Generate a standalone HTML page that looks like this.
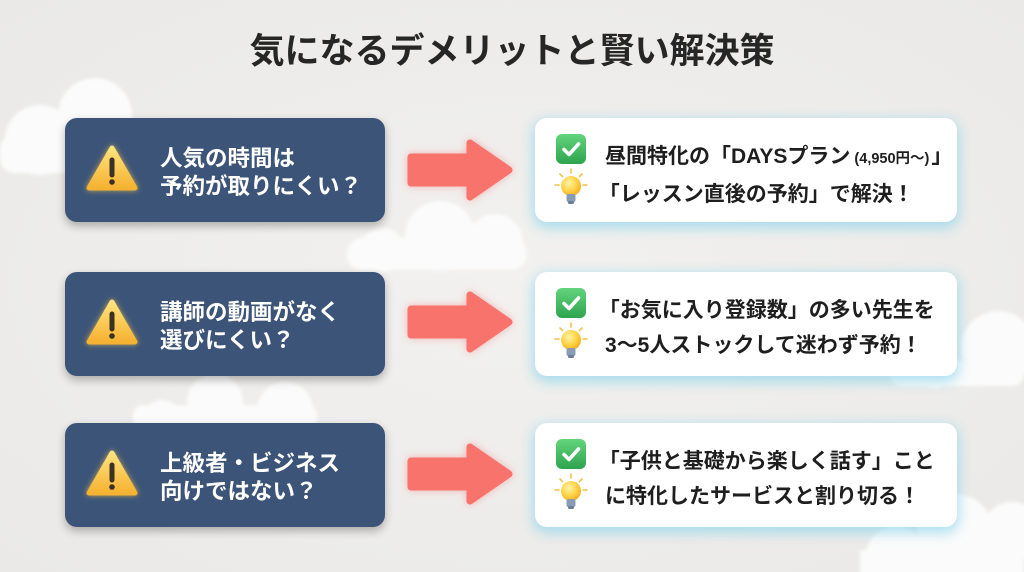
<!DOCTYPE html>
<html lang="ja">
<head>
<meta charset="utf-8">
<style>
  html,body{margin:0;padding:0;}
  body{width:1024px;height:572px;overflow:hidden;position:relative;
    background:#eeedeb;
    font-family:"Liberation Sans","Noto Sans CJK JP",sans-serif;}
  .bg{position:absolute;left:0;top:0;}
  .title{position:absolute;left:0;width:1024px;top:30px;text-align:center;
    font-size:35px;line-height:44px;font-weight:700;color:#262626;letter-spacing:0px;}
  .lbox{position:absolute;left:65px;width:320px;height:104px;border-radius:12px;
    background:#3b5478;box-shadow:0 4px 9px rgba(0,0,0,0.28);}
  .lbox .txt{position:absolute;left:95px;top:27px;color:#fff;font-size:22.5px;line-height:28px;
    font-weight:700;white-space:nowrap;}
  .lbox svg{position:absolute;left:22px;top:28px;overflow:visible;}
  .rbox{position:absolute;left:535px;width:422px;height:104px;border-radius:12px;
    background:#fff;box-shadow:0 4px 12px 2px rgba(130,210,235,0.65);}
  .rbox .txt{position:absolute;left:70px;top:21px;color:#1e1e1e;font-size:21px;line-height:35px;
    font-weight:700;white-space:nowrap;}
  .br{margin-left:-0.3em;}
  .small{font-size:14.5px;margin:0 2px 0 4px;}
  .rbox .chk{position:absolute;left:21px;top:16px;}
  .rbox .bulb{position:absolute;left:18px;top:50px;}
  .arrow{position:absolute;left:400px;overflow:visible;}
</style>
</head>
<body>
<svg class="bg" width="1024" height="572" viewBox="0 0 1024 572">
  <defs>
    <filter id="soft" x="-20%" y="-20%" width="140%" height="140%">
      <feGaussianBlur stdDeviation="1.6"/>
    </filter>
    <radialGradient id="bgg" cx="50%" cy="50%" r="70%">
      <stop offset="0" stop-color="#f2f1ef"/>
      <stop offset="1" stop-color="#eae9e7"/>
    </radialGradient>
  </defs>
  <rect width="1024" height="572" fill="url(#bgg)"/>
  <g fill="#fbfbfb" filter="url(#soft)">
    <circle cx="95" cy="115" r="37"/>
    <circle cx="40" cy="140" r="35"/>
    <rect x="0" y="135" width="140" height="38" rx="14"/>
    <circle cx="440" cy="236" r="35"/>
    <circle cx="495" cy="242" r="28"/>
    <circle cx="382" cy="250" r="22"/>
    <rect x="347" y="238" width="180" height="32" rx="15"/>
    <circle cx="215" cy="402" r="28"/>
    <circle cx="285" cy="410" r="28"/>
    <circle cx="162" cy="420" r="20"/>
    <rect x="133" y="405" width="184" height="25" rx="10"/>
    <circle cx="998" cy="348" r="37"/>
    <circle cx="935" cy="366" r="22"/>
    <rect x="890" y="360" width="134" height="26" rx="12"/>
    <circle cx="955" cy="532" r="38"/>
    <circle cx="896" cy="556" r="30"/>
    <circle cx="1012" cy="532" r="30"/>
    <rect x="860" y="550" width="164" height="30"/>
  </g>
</svg>

<div class="title">気になるデメリットと賢い解決策</div>

<svg width="0" height="0" style="position:absolute">
  <defs>
    <linearGradient id="warn" x1="0" y1="0" x2="0" y2="1">
      <stop offset="0" stop-color="#ffe27c"/>
      <stop offset="1" stop-color="#f6b232"/>
    </linearGradient>
    <linearGradient id="grn" x1="0" y1="0" x2="0" y2="1">
      <stop offset="0" stop-color="#62d47c"/>
      <stop offset="1" stop-color="#2ea44e"/>
    </linearGradient>
    <radialGradient id="blb" cx="40%" cy="35%" r="70%">
      <stop offset="0" stop-color="#fff3a8"/>
      <stop offset="0.6" stop-color="#ffd041"/>
      <stop offset="1" stop-color="#f3a91f"/>
    </radialGradient>
    <filter id="glow" x="-50%" y="-50%" width="200%" height="200%">
      <feGaussianBlur stdDeviation="3" result="b"/>
      <feFlood flood-color="#ffc94a" flood-opacity="0.7"/>
      <feComposite in2="b" operator="in"/>
      <feMerge><feMergeNode/><feMergeNode in="SourceGraphic"/></feMerge>
    </filter>
    <filter id="aglow" x="-30%" y="-30%" width="160%" height="160%">
      <feGaussianBlur stdDeviation="4" result="b"/>
      <feFlood flood-color="#f76c66" flood-opacity="0.45"/>
      <feComposite in2="b" operator="in"/>
      <feMerge><feMergeNode/><feMergeNode in="SourceGraphic"/></feMerge>
    </filter>
    <g id="tri">
      <path d="M25 2 L48 42 L2 42 Z" fill="url(#warn)" stroke="url(#warn)" stroke-width="5" stroke-linejoin="round"/>
      <path d="M25 14 L25 29" stroke="#3a3326" stroke-width="5" stroke-linecap="round"/>
      <circle cx="25" cy="36" r="2.8" fill="#3a3326"/>
    </g>
    <g id="check">
      <rect x="0" y="0" width="30" height="30" rx="6" fill="url(#grn)"/>
      <path d="M8 15.5 L13 20.5 L22.5 10" fill="none" stroke="#fff" stroke-width="3.6" stroke-linecap="round" stroke-linejoin="round"/>
    </g>
    <g id="bulbg">
      <g stroke="#f2c04a" stroke-width="1.6" stroke-linecap="round">
        <line x1="18" y1="1" x2="18" y2="5"/>
        <line x1="7" y1="6" x2="9.5" y2="8.5"/>
        <line x1="29" y1="6" x2="26.5" y2="8.5"/>
        <line x1="2" y1="17" x2="6" y2="17"/>
        <line x1="30" y1="17" x2="34" y2="17"/>
      </g>
      <circle cx="18" cy="18" r="10" fill="url(#blb)"/>
      <rect x="13.5" y="26" width="9" height="8" rx="2" fill="#8a9bb5"/>
      <rect x="15" y="33" width="6" height="3" rx="1.5" fill="#6b7d99"/>
    </g>
    <g id="arr">
      <path d="M11 18 L70 18 L70 4 L109 31 L70 58 L70 44 L11 44 Z" fill="#f7736c" stroke="#f7736c" stroke-width="7" stroke-linejoin="round"/>
    </g>
  </defs>
</svg>

<div class="lbox" style="top:118px;">
  <svg width="50" height="46" viewBox="0 0 50 46"><use href="#tri" filter="url(#glow)"/></svg>
  <div class="txt">人気の時間は<br>予約が取りにくい？</div>
</div>
<div class="lbox" style="top:272px;">
  <svg width="50" height="46" viewBox="0 0 50 46"><use href="#tri" filter="url(#glow)"/></svg>
  <div class="txt">講師の動画がなく<br>選びにくい？</div>
</div>
<div class="lbox" style="top:423px;">
  <svg width="50" height="46" viewBox="0 0 50 46"><use href="#tri" filter="url(#glow)"/></svg>
  <div class="txt">上級者・ビジネス<br>向けではない？</div>
</div>

<svg class="arrow" style="top:139px;" width="120" height="62" viewBox="0 0 120 62"><use href="#arr" filter="url(#aglow)"/></svg>
<svg class="arrow" style="top:291px;" width="120" height="62" viewBox="0 0 120 62"><use href="#arr" filter="url(#aglow)"/></svg>
<svg class="arrow" style="top:443px;" width="120" height="62" viewBox="0 0 120 62"><use href="#arr" filter="url(#aglow)"/></svg>

<div class="rbox" style="top:118px;">
  <svg class="chk" width="30" height="30" viewBox="0 0 30 30"><use href="#check"/></svg>
  <svg class="bulb" width="36" height="38" viewBox="0 0 36 38"><use href="#bulbg"/></svg>
  <div class="txt">昼間特化の「DAYSプラン<span class="small">(4,950円〜)</span>」<br><span class="br">「レッスン直後の予約」で解決！</span></div>
</div>
<div class="rbox" style="top:272px;">
  <svg class="chk" width="30" height="30" viewBox="0 0 30 30"><use href="#check"/></svg>
  <svg class="bulb" width="36" height="38" viewBox="0 0 36 38"><use href="#bulbg"/></svg>
  <div class="txt"><span class="br">「お気に入り登録数」の多い先生を</span><br>3〜5人ストックして迷わず予約！</div>
</div>
<div class="rbox" style="top:423px;">
  <svg class="chk" width="30" height="30" viewBox="0 0 30 30"><use href="#check"/></svg>
  <svg class="bulb" width="36" height="38" viewBox="0 0 36 38"><use href="#bulbg"/></svg>
  <div class="txt"><span class="br">「子供と基礎から楽しく話す」こと</span><br>に特化したサービスと割り切る！</div>
</div>
</body>
</html>
